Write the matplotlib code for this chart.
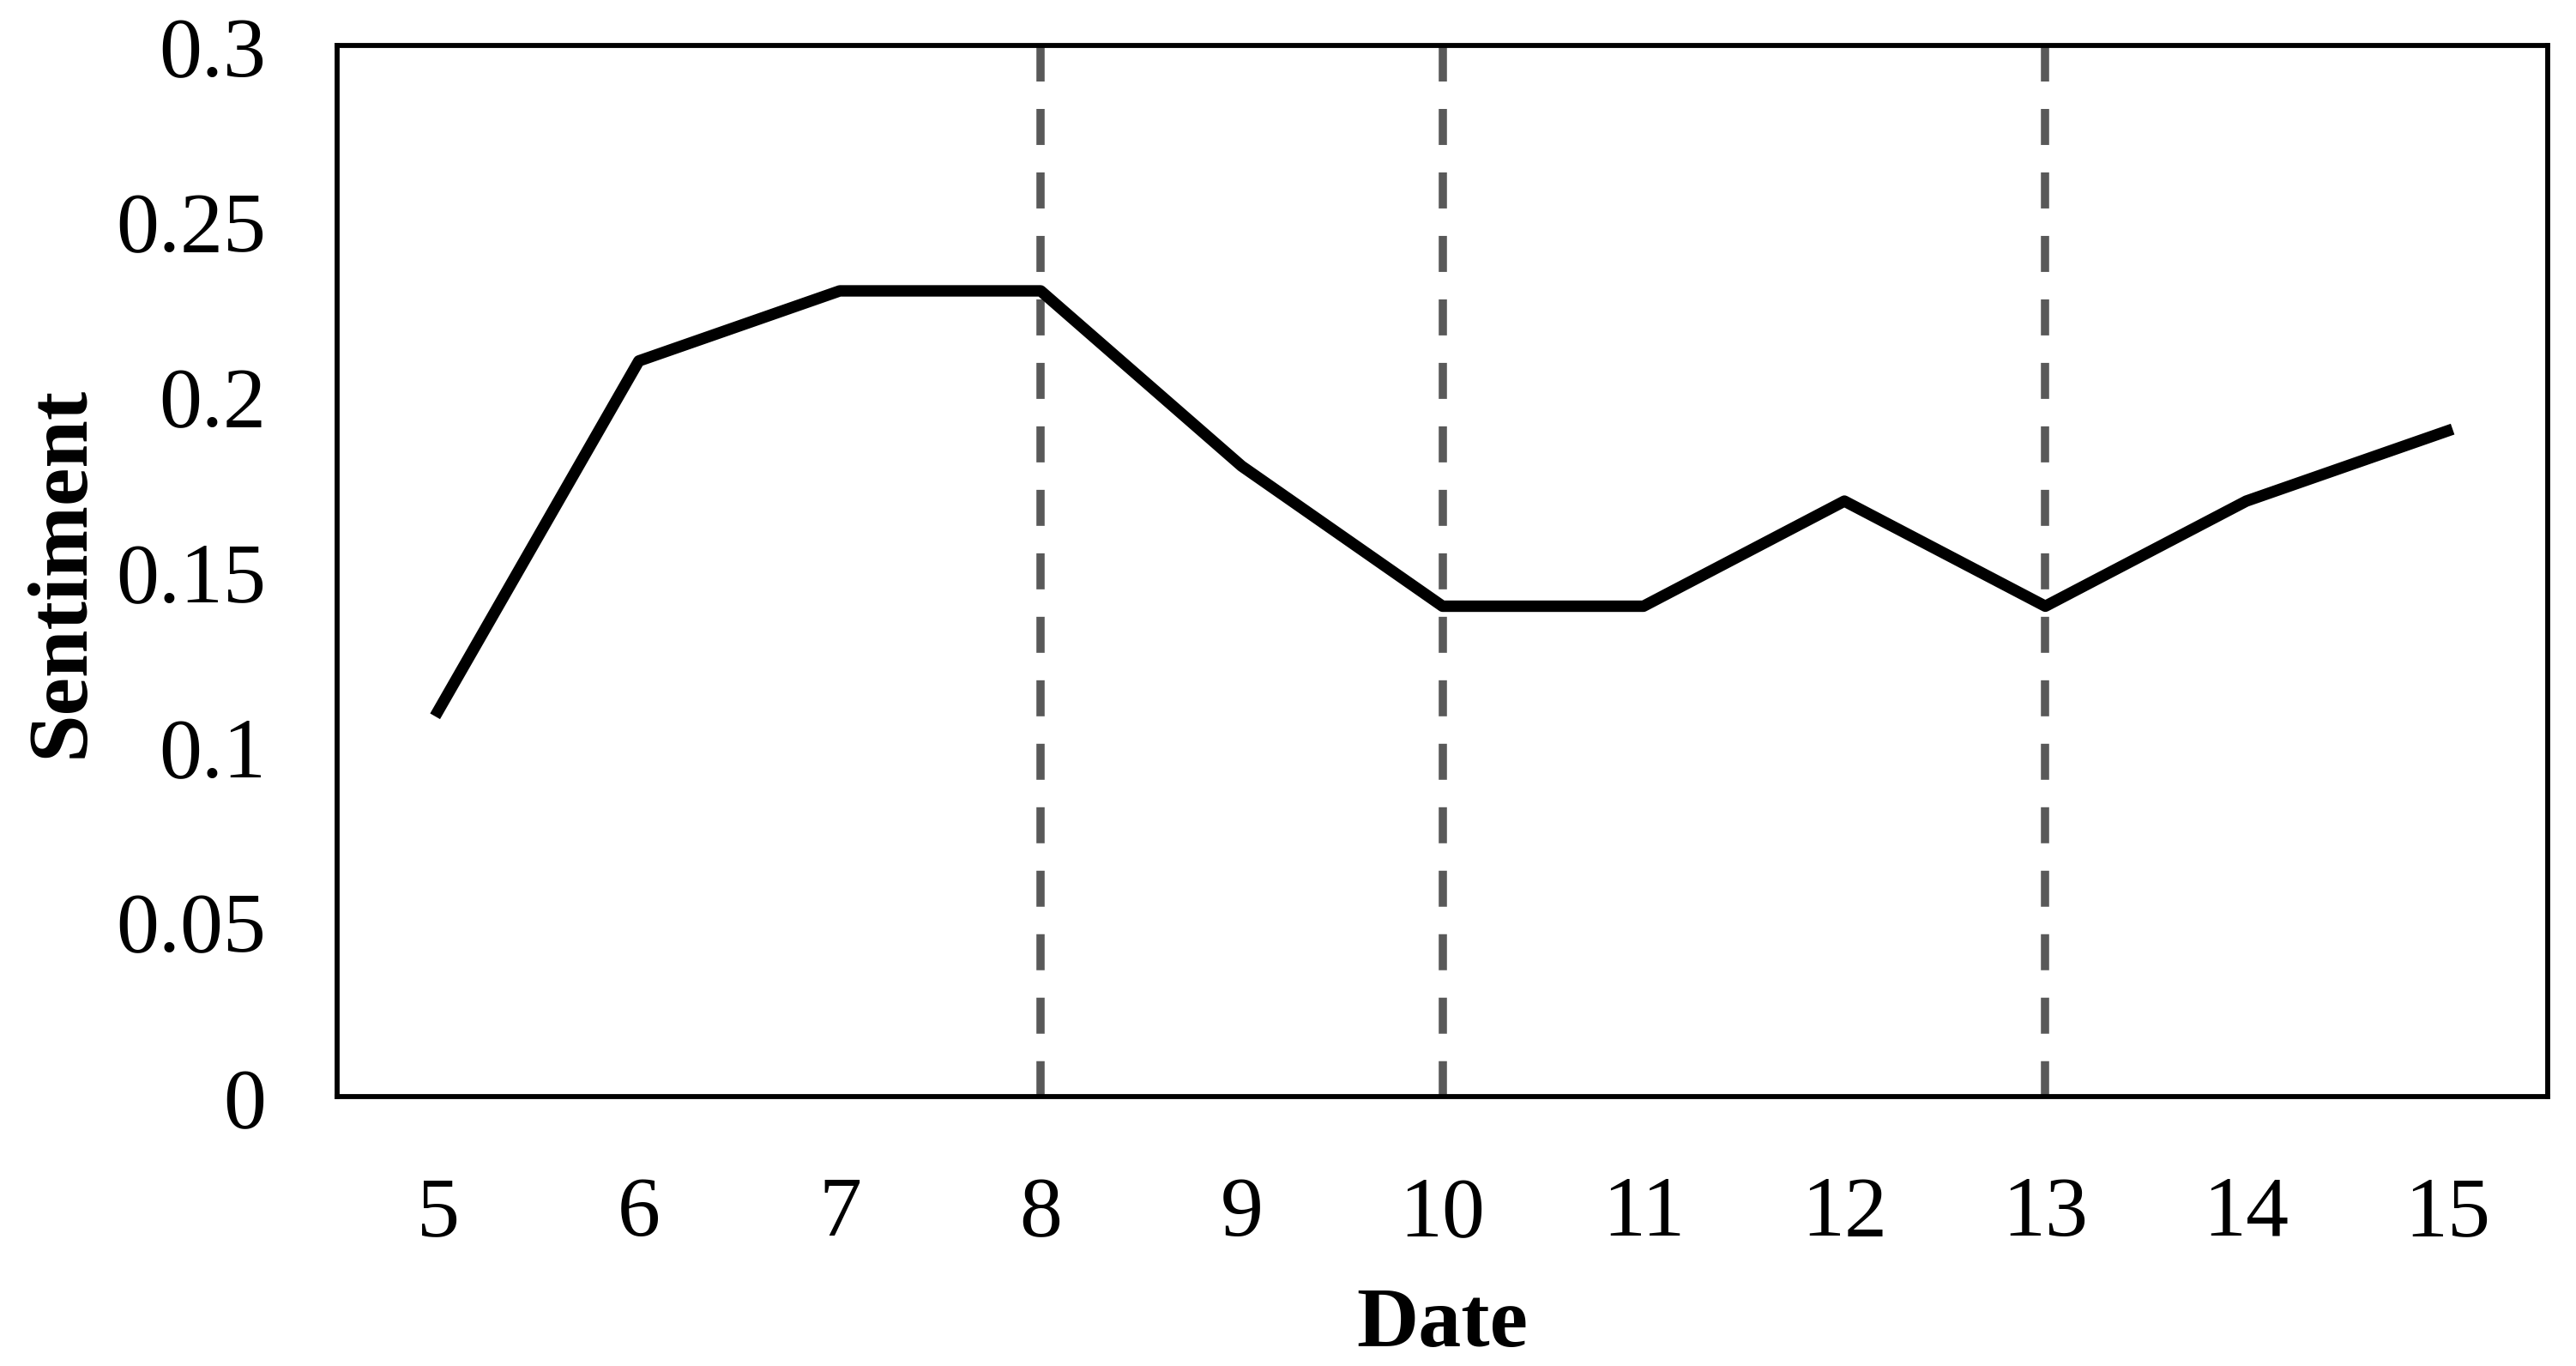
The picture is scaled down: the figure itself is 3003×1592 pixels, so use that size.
import numpy as np
import matplotlib.pyplot as plt

# daily sentiment values
dates = [5, 6, 7, 8, 9, 10, 11, 12, 13, 14, 15]
sentiment = [0.11, 0.21, 0.23, 0.23, 0.18, 0.14, 0.14, 0.17, 0.14, 0.17, 0.19]
# dates marked by dashed lines
events = [8, 10, 13]

plt.rcParams['font.family'] = ['Liberation Serif', 'DejaVu Serif']

fig = plt.figure(figsize=(10.01, 5.31), dpi=300)
ax = fig.add_axes([0.131, 0.197, 0.858, 0.769])

for e in events:
    # drawn top-down so the dash pattern starts at the top edge
    ax.axvline(e, ymin=1, ymax=0, color='#595959', linewidth=2.3,
               linestyle=(0, (4.38, 3.34)), zorder=1)

ax.plot(dates, sentiment, color='black', linewidth=3.2, zorder=2)

ax.set_xlim(4.5, 15.5)
ax.set_ylim(0, 0.3)
ax.set_xticks(dates)
ax.set_yticks([0, 0.05, 0.1, 0.15, 0.2, 0.25, 0.3])
ax.set_yticklabels(['0', '0.05', '0.1', '0.15', '0.2', '0.25', '0.3'])
ax.tick_params(axis='both', length=0, labelsize=24)
ax.tick_params(axis='x', pad=22)
ax.tick_params(axis='y', pad=20)

for s in ax.spines.values():
    s.set_linewidth(1.4)

ax.set_xlabel('Date', fontsize=24, fontweight='bold')
ax.set_ylabel('Sentiment', fontsize=24, fontweight='bold')
ax.xaxis.set_label_coords(0.5, -0.18)
ax.yaxis.set_label_coords(-0.107, 0.5)

fig.savefig('out.png', dpi=300)
